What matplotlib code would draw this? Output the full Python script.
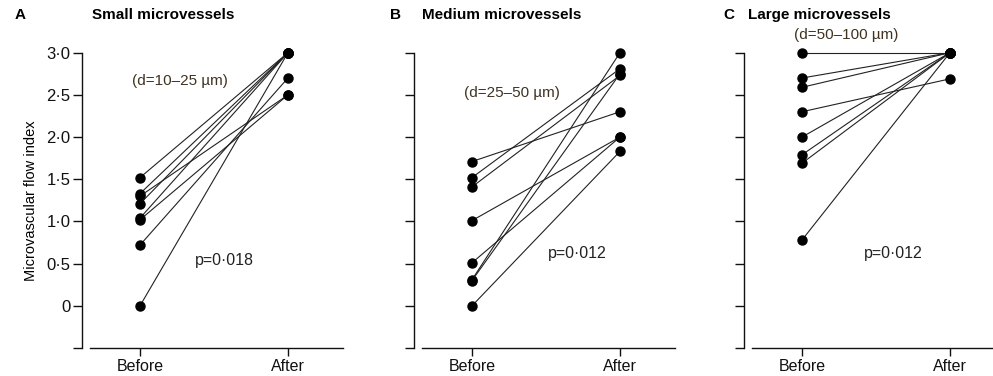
import matplotlib
matplotlib.use("Agg")
import matplotlib.pyplot as plt

plt.rcParams['font.family'] = ['Liberation Sans', 'DejaVu Sans']

# paired values, before -> after, one pair per patient
small_before = [1.52, 1.33, 1.30, 1.21, 1.04, 1.02, 0.72, 0.0]
small_after = [3.0, 3.0, 2.5, 3.0, 3.0, 2.5, 2.7, 3.0]

medium_before = [1.71, 1.52, 1.41, 1.01, 0.51, 0.31, 0.30, 0.0]
medium_after = [2.30, 2.81, 2.73, 2.0, 2.0, 3.0, 2.75, 1.83]

large_before = [3.0, 2.70, 2.59, 2.30, 2.0, 1.79, 1.69, 0.78]
large_after = [3.0, 3.0, 3.0, 2.69, 3.0, 3.0, 3.0, 3.0]

x_labels = ['Before', 'After']
y_ticks = [-0.5, 0, 0.5, 1.0, 1.5, 2.0, 2.5, 3.0]
y_ticklabels = ['', '0', '0·5', '1·0', '1·5', '2·0', '2·5', '3·0']

letters = ['A', 'B', 'C']
titles = ['Small microvessels', 'Medium microvessels', 'Large microvessels']
diam_notes = ['(d=10–25 µm)', '(d=25–50 µm)', '(d=50–100 µm)']
p_values = ['p=0·018', 'p=0·012', 'p=0·012']

panels = [(small_before, small_after), (medium_before, medium_after), (large_before, large_after)]

W, H = 993, 376
fig = plt.figure(figsize=(W / 100, H / 100), dpi=100)

ax_left_px = [90, 422, 752]
letter_px = [15, 390, 723]
title_px = [92, 422, 748]
note_pos = [(0.27, 2.67), (0.27, 2.52), (0.30, 3.21)]
p_pos = [(0.57, 0.54), (0.71, 0.62), (0.62, 0.62)]

line_col = '#222222'
note_col = '#3f3322'

for i, (before, after) in enumerate(panels):
    ax = fig.add_axes([ax_left_px[i] / W, 28 / H, 253 / W, 295.3 / H])
    for b, a in zip(before, after):
        ax.plot([0, 1], [b, a], color=line_col, lw=0.8, zorder=2,
                marker='o', markersize=6.5, markerfacecolor='black',
                markeredgecolor='black', clip_on=False)

    ax.set_xlim(-0.338, 1.372)
    ax.set_ylim(-0.5, 3.0)
    ax.spines['top'].set_visible(False)
    ax.spines['right'].set_visible(False)
    ax.spines['left'].set_position(('outward', 6))
    for s in ['left', 'bottom']:
        ax.spines[s].set_linewidth(1.0)
        ax.spines[s].set_color('#111111')

    ax.set_xticks([0, 1])
    ax.set_xticklabels(x_labels, fontsize=11.5)
    ax.set_yticks(y_ticks)
    if i == 0:
        ax.set_yticklabels(y_ticklabels, fontsize=12)
        ax.set_ylabel('Microvascular flow index', fontsize=10.5, labelpad=6)
    else:
        ax.set_yticklabels([''] * len(y_ticks))
    ax.tick_params(axis='y', length=6.5, width=1.0, pad=1.5, colors='#111111')
    ax.tick_params(axis='x', length=6, width=1.0, pad=2, colors='#111111')

    ax.text(note_pos[i][0], note_pos[i][1], diam_notes[i], fontsize=11,
            color=note_col, ha='center', va='center', clip_on=False)
    ax.text(p_pos[i][0], p_pos[i][1], p_values[i], fontsize=11.5,
            color='#222222', ha='center', va='center')

    fig.text(letter_px[i] / W, 1 - 15 / H, letters[i], fontsize=11,
             fontweight='bold', ha='left', va='center')
    fig.text(title_px[i] / W, 1 - 15 / H, titles[i], fontsize=11,
             fontweight='bold', ha='left', va='center')

fig.savefig('out.png', dpi=100)
